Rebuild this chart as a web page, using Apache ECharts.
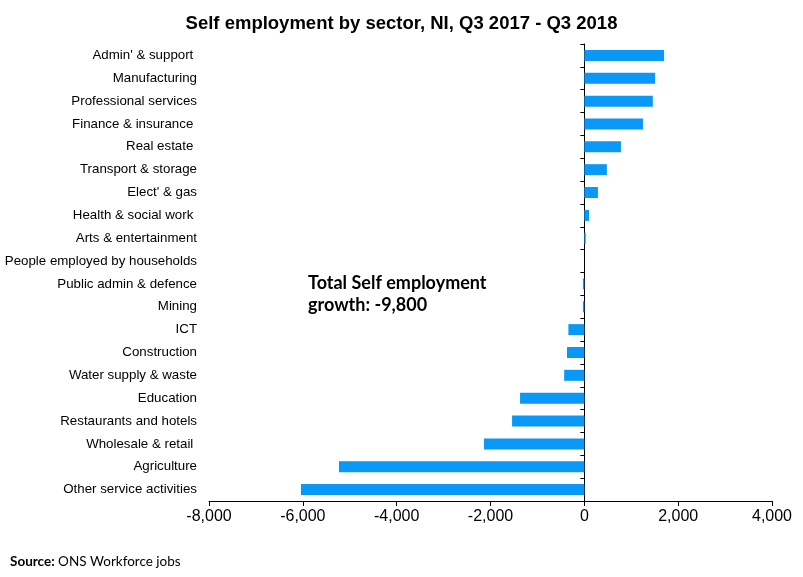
<!DOCTYPE html>
<html>
<head>
    <meta charset="utf-8">
    <title>ECharts</title>
    <script src="https://cdn.jsdelivr.net/npm/echarts@6/dist/echarts.min.js"></script>
    <style>
      html, body { margin: 0; padding: 0; background: #fff; }
    </style>
</head>
<body>
    <div id="main" style="width: 803px;height:577px;"></div>
    <script type="text/javascript">
      // 分类（从上到下）
      var sectors = [
        "Admin' & support ", 'Manufacturing', 'Professional services', 'Finance & insurance ',
        'Real estate ', 'Transport & storage', "Elect' & gas", 'Health & social work ',
        'Arts & entertainment', 'People employed by households', 'Public admin & defence',
        'Mining', 'ICT', 'Construction', 'Water supply & waste', 'Education',
        'Restaurants and hotels', 'Wholesale & retail ', 'Agriculture', 'Other service activities'
      ];
      // 变化值
      var change = [
        1700, 1510, 1460, 1250,
        780, 480, 290, 100,
        30, 0, -30,
        -30, -340, -370, -430, -1370,
        -1540, -2140, -5230, -6040
      ];
      var xTicks = { min: -8000, max: 4000, step: 2000 };

      var myChart = echarts.init(document.getElementById('main'));
      var option = {
        backgroundColor: '#fff',
        animation: false,
        title: {
          text: 'Self employment by sector, NI, Q3 2017 - Q3 2018',
          left: 'center',
          top: 9,
          textStyle: { fontFamily: 'Liberation Sans', fontWeight: 'bold', fontSize: 18.5, color: '#000' }
        },
        grid: { left: 209, right: 31, top: 44, bottom: 76 },
        xAxis: {
          type: 'value',
          min: xTicks.min,
          max: xTicks.max,
          interval: xTicks.step,
          splitLine: { show: false },
          axisLine: { show: true, onZero: false, lineStyle: { color: '#000', width: 1 } },
          axisTick: { show: true, length: 5, lineStyle: { color: '#000' } },
          axisLabel: {
            color: '#000', fontSize: 16, margin: 8,
            fontFamily: 'Liberation Sans',
            formatter: function (v) { return echarts.format.addCommas(v); }
          }
        },
        yAxis: [{
          type: 'category',
          inverse: true,
          data: sectors,
          axisLine: { show: false, onZero: false },
          axisTick: { show: false },
          axisLabel: { color: '#000', fontSize: 13.3, margin: 12, fontFamily: 'Liberation Sans' }
        }, {
          // 零线上的坐标轴
          type: 'category',
          inverse: true,
          data: sectors,
          axisLine: { show: true, onZero: true, lineStyle: { color: '#000', width: 1 } },
          axisTick: { show: true, inside: true, length: 4, lineStyle: { color: '#000' } },
          axisLabel: { show: false }
        }],
        series: [{
          type: 'bar',
          yAxisIndex: 0,
          data: change,
          barWidth: 11,
          itemStyle: { color: '#0A98F7' }
        }],
        graphic: [{
          type: 'text',
          left: 308,
          top: 272,
          style: {
            text: 'Total Self employment\ngrowth: -9,800',
            font: 'bold 18px Lato',
            lineHeight: 22,
            fill: '#000'
          }
        }, {
          type: 'text',
          left: 10,
          top: 555,
          style: {
            text: '{b|Source:} ONS Workforce jobs',
            font: '13.5px Lato',
            fill: '#000',
            rich: { b: { fontWeight: 'bold', fontSize: 13.5, fontFamily: 'Lato' } }
          }
        }]
      };
      myChart.setOption(option);
    </script>
</body>
</html>
